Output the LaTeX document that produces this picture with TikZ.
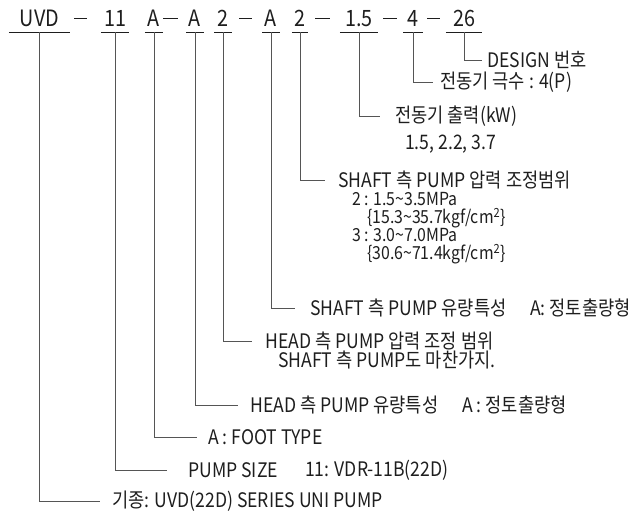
\documentclass[tikz,border=0pt]{standalone}
\usepackage{fontspec}
\setmainfont[FakeStretch=0.88]{Noto Sans CJK KR}
\usetikzlibrary{positioning}
\definecolor{codeink}{RGB}{30,30,30}
\definecolor{leadgray}{RGB}{85,85,85}
\newcommand{\rangelines}{\lineskiplimit=-100pt\relax}
\tikzset{
  code/.style={font=\fontsize{22.5}{22.5}\selectfont, text=codeink, anchor=base,
    inner xsep=0pt, inner ysep=5pt},
  codedash/.style={fill=codeink, inner sep=0pt, minimum height=1.1pt},
  note/.style={font=\fontsize{20}{17.7}\selectfont, text=codeink, anchor=west, inner sep=0pt},
  uline/.style={draw=codeink, line width=0.9pt},
  lead/.style={draw=leadgray, line width=0.8pt}
}

\begin{document}
\begin{tikzpicture}[x=1pt, y=-1pt]
  \useasboundingbox (0,0) rectangle (637,513);
  % model code
  \node[code, minimum width=61pt] (uvd) at (39.5,27) {UVD};
  \node[code, minimum width=28pt] (size) at (115,27) {11};
  \node[code, minimum width=18pt] (foot) at (154,27) {A};
  \node[code, minimum width=17pt] (hflow) at (195,27) {A};
  \node[code, minimum width=17pt] (hpres) at (223,27) {2};
  \node[code, minimum width=17pt] (sflow) at (271,27) {A};
  \node[code, minimum width=16pt] (spres) at (300,27) {2};
  \node[code, minimum width=38pt] (kw) at (359,27) {1.5};
  \node[code, minimum width=19pt] (pole) at (413,27) {4};
  \node[code, minimum width=36pt] (design) at (464,27) {26};
  \foreach \x/\w [count=\i] in {80.5/13, 170.5/15, 245.5/13, 322.5/15, 390/14, 433.5/13}
    \node[codedash, minimum width=\w pt] (dash\i) at (\x,18.5) {};
  \foreach \n in {uvd,size,foot,hflow,hpres,sflow,spres,kw,pole,design}
    \draw[uline] (\n.south west) -- (\n.south east);

  % explanations
  \node[note] (tdesign) at (487,60) {DESIGN 번호};
  \node[note] (tpole) at (440,82) {전동기 극수 : 4(P)};
  \node[note] (tkw) at (395,116) {전동기 출력(kW)};
  \node[note] (tkwval) at (405,144) {1.5, 2.2, 3.7};
  \node[note] (tspres) at (338,180) {SHAFT 측 PUMP 압력 조정범위};
  \node[note, font=\fontsize{18}{18}\selectfont\rangelines, anchor=north west, align=left]
    (tsprange) at (352,192.5)
    {2 : 1.5\textasciitilde3.5MPa\\
     \hspace*{15pt}\{15.3\textasciitilde35.7kgf/cm\textsuperscript{2}\}\\
     3 : 3.0\textasciitilde7.0MPa\\
     \hspace*{15pt}\{30.6\textasciitilde71.4kgf/cm\textsuperscript{2}\}};
  \node[note] (tsflow) at (310,308) {SHAFT 측 PUMP 유량특성};
  \node[note] (tsflowv) at (530,308) {A: 정토출량형};
  \node[note] (thpres) at (265,341) {HEAD 측 PUMP 압력 조정 범위};
  \node[note] (thpres1) at (278,360) {SHAFT 측 PUMP도 마찬가지.};
  \node[note] (thflow) at (250,405) {HEAD 측 PUMP 유량특성};
  \node[note] (thflowv) at (462,405) {A : 정토출량형};
  \node[note] (tfoot) at (208,437) {A : FOOT TYPE};
  \node[note] (tsize) at (188,470) {PUMP SIZE};
  \node[note] (tsizev) at (305,470) {11: VDR-11B(22D)};
  \node[note] (tuvd) at (112,501) {기종: UVD(22D) SERIES UNI PUMP};

  % leaders
  \foreach \c/\t/\g in {design/tdesign/5, pole/tpole/7, kw/tkw/15, spres/tspres/13,
      sflow/tsflow/15, hpres/thpres/13, hflow/thflow/12, foot/tfoot/11,
      size/tsize/21, uvd/tuvd/12}
    \draw[lead] (\c.south) |- ([xshift=-\g pt]\t.west);
\end{tikzpicture}
\end{document}
